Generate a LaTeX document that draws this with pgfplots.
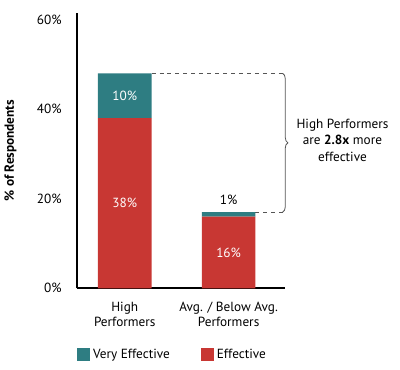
\documentclass[border=0pt]{standalone}
\usepackage{fontspec}
\setmainfont{PT Sans}
\usepackage{pgfplots}
\pgfplotsset{compat=1.18}
\usetikzlibrary{decorations.pathreplacing}
\definecolor{teal1}{HTML}{2E7D82}
\definecolor{red1}{HTML}{C83733}
\definecolor{dashgray}{HTML}{555555}
\begin{document}
\begin{tikzpicture}[font=\fontsize{10}{12}\selectfont]
\begin{axis}[
 scale only axis, width=156.75pt, height=207.75pt,
 xmin=-0.46, xmax=1.54, ymin=0, ymax=61.5,
 ybar stacked, bar width=40.5pt,
 axis x line*=bottom, axis y line*=left,
 axis line style={-, line width=1.5pt, black},
 xtick={0,1}, xticklabels={{High\\Performers},{Avg. / Below Avg.\\Performers}},
 xticklabel style={align=center, yshift=-7pt, font=\fontsize{10}{11.5}\selectfont},
 ytick={0,20,40,60}, yticklabel={\pgfmathprintnumber{\tick}\%},
 /pgf/number format/assume math mode=true,
 major tick length=0pt,
 yticklabel style={xshift=-8pt},
 ylabel={\textbf{\% of Respondents}},
 ylabel style={at={(rel axis cs:-0.32,0.5)}, anchor=center},
 clip=false,
 legend columns=2, reverse legend,
 legend style={draw=none, at={(rel axis cs:0,0)}, anchor=west, yshift=-50pt, inner sep=0pt,
   /tikz/every even column/.append style={column sep=21.5pt}},
 legend image code/.code={\fill[#1] (0pt,-5pt) rectangle (10pt,5pt);},
]
\addplot[fill=red1, draw=none] coordinates {(0,38) (1,16)};
\addlegendentry{Effective}
\addplot[fill=teal1, draw=none] coordinates {(0,10) (1,1)};
\addlegendentry{Very Effective}
\coordinate (la) at (axis cs:0,43);
\coordinate (lb) at (axis cs:0,19);
\coordinate (lc) at (axis cs:1,8);
\node[black] at (axis cs:1,19.8) {1\%};
\draw[dashed, dashgray, line width=0.6pt] (axis cs:0.2585,48) -- (axis cs:1.52,48);
\draw[dashed, dashgray, line width=0.6pt] (axis cs:1.2585,17) -- (axis cs:1.52,17);
\draw[decorate, decoration={brace, amplitude=4pt}, dashgray, line width=0.6pt] (axis cs:1.52,48) -- (axis cs:1.52,17);
\node[align=center, font=\fontsize{10}{12.4}\selectfont] at (axis cs:2.096,33.1) {High Performers\\are \textbf{2.8x} more\\effective};
\path (rel axis cs:-0.3589,-0.2960) rectangle (rel axis cs:1.555,1.047);
\draw[line width=1.5pt] (rel axis cs:0,0) -- ++(-6.75pt,0);
\end{axis}
\node[white] at (la) {10\%};
\node[white] at (lb) {38\%};
\node[white] at (lc) {16\%};
\end{tikzpicture}
\end{document}
